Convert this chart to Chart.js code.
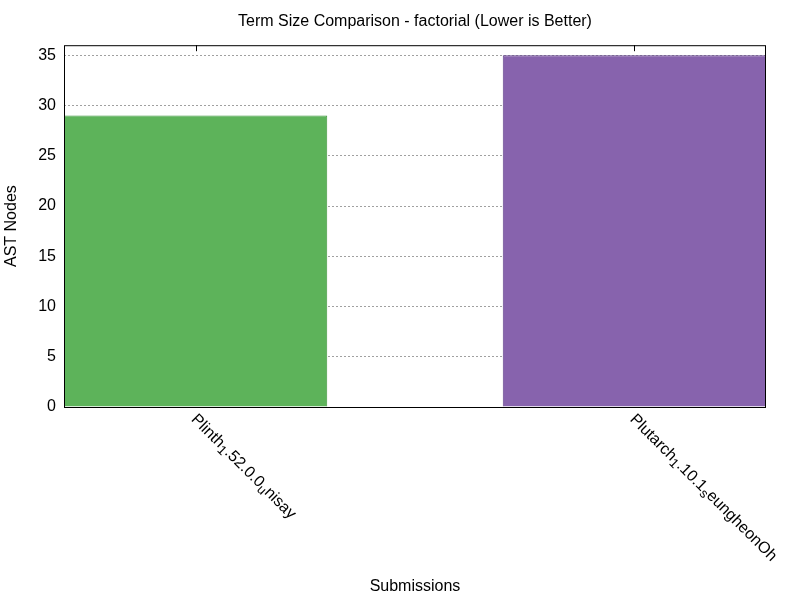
<!DOCTYPE html>
<html>
  <head>
    <title>Term Size Comparison</title>
    <script src="https://cdn.jsdelivr.net/npm/chart.js"></script>
    <style>
      body { margin: 0; background: #ffffff; }
      .chartframe { width: 800px; height: 600px; }
    </style>
  </head>
  <body>
    <div class="chartframe">
      <canvas id="myChart" width="800" height="600"></canvas>
    </div>
  </body>
</html>
<script>
//------------------------------------------------------------------------------
// data
//------------------------------------------------------------------------------
var submissions = ['Plinth_1.52.0.0_unisay', 'Plutarch_1.10.1_seungheonOh'];
var positions = [0, 1];
var astNodes = [29, 35];
var barColors = ['#5db35a', '#8763ad'];
var barBorders = ['#3f963d', '#5f3f8a'];
var yTicks = [0, 5, 10, 15, 20, 25, 30, 35];

var FONT = '"Liberation Sans", Arial, sans-serif';

//------------------------------------------------------------------------------
// gnuplot style labels: "_x" = subscript x
//------------------------------------------------------------------------------
function drawRichLabel(ctx, text, size) {
  var x = 0;
  for (var i = 0; i < text.length; i++) {
    var ch = text[i];
    var sub = false;
    if (ch === '_' && i + 1 < text.length) {
      sub = true;
      i++;
      ch = text[i];
    }
    ctx.font = (sub ? Math.round(size * 0.8) : size) + 'px ' + FONT;
    ctx.fillText(ch, x, sub ? size * 0.25 : 0);
    x += ctx.measureText(ch).width;
  }
}

var framePlugin = {
  id: 'frame',
  afterDatasetsDraw: function(chart) {
    var ctx = chart.ctx;
    var a = chart.chartArea;
    var xs = chart.scales.x;
    ctx.save();
    ctx.strokeStyle = '#000000';
    ctx.lineWidth = 1;
    ctx.strokeRect(a.left + 0.5, a.top + 0.5, a.right - a.left - 1, a.bottom - a.top);
    // top mirror ticks
    ctx.beginPath();
    for (var i = 0; i < positions.length; i++) {
      var px = Math.round(xs.getPixelForValue(positions[i])) + 0.5;
      ctx.moveTo(px, a.top);
      ctx.lineTo(px, a.top + 6);
    }
    ctx.stroke();
    // rotated category labels
    ctx.fillStyle = '#000000';
    ctx.textAlign = 'left';
    ctx.textBaseline = 'middle';
    for (var j = 0; j < positions.length; j++) {
      var lx = xs.getPixelForValue(positions[j]);
      ctx.save();
      ctx.translate(lx - 2, a.bottom + 10);
      ctx.rotate(Math.PI / 4);
      drawRichLabel(ctx, submissions[j], 16);
      ctx.restore();
    }
    ctx.restore();
  }
};

//------------------------------------------------------------------------------
// chart
//------------------------------------------------------------------------------
var ctx = document.getElementById('myChart').getContext('2d');
var chart = new Chart(ctx, {
  type: 'bar',
  data: {
    datasets: [{
      label: 'AST Nodes',
      data: positions.map(function(p, i) { return { x: p, y: astNodes[i] }; }),
      backgroundColor: barColors,
      borderColor: barBorders,
      borderWidth: 1,
      barPercentage: 0.6,
      categoryPercentage: 1.0
    }]
  },
  plugins: [framePlugin],
  options: {
    responsive: false,
    animation: false,
    layout: { padding: { left: 0, right: 34, top: 0, bottom: 4 } },
    plugins: {
      legend: { display: false },
      tooltip: { enabled: false },
      title: {
        display: true,
        fullSize: false,
        text: 'Term Size Comparison - factorial (Lower is Better)',
        color: '#000000',
        font: { family: FONT, size: 16, weight: 'normal' },
        padding: { top: 12, bottom: 14 }
      }
    },
    scales: {
      x: {
        type: 'linear',
        offset: false,
        min: -0.3,
        max: 1.3,
        afterBuildTicks: function(scale) {
          scale.ticks = positions.map(function(p) { return { value: p }; });
        },
        afterFit: function(scale) { scale.height = 189; },
        ticks: { display: false },
        grid: { display: false, drawTicks: false, offset: false },
        border: { display: false },
        title: {
          display: true,
          text: 'Submissions',
          color: '#000000',
          font: { family: FONT, size: 16 },
          padding: { top: 0, bottom: 0 }
        }
      },
      y: {
        min: 0,
        max: 36,
        afterBuildTicks: function(scale) {
          scale.ticks = yTicks.map(function(v) { return { value: v }; });
        },
        afterFit: function(scale) { scale.width = 64; },
        ticks: {
          color: '#000000',
          font: { family: FONT, size: 16 },
          padding: 8
        },
        grid: {
          color: '#a0a0a0',
          drawTicks: false,
          lineWidth: 1
        },
        border: { display: false, dash: [2, 2] },
        title: {
          display: true,
          text: 'AST Nodes',
          color: '#000000',
          font: { family: FONT, size: 16 },
          padding: { top: 2, bottom: 0 }
        }
      }
    }
  }
});
</script>
